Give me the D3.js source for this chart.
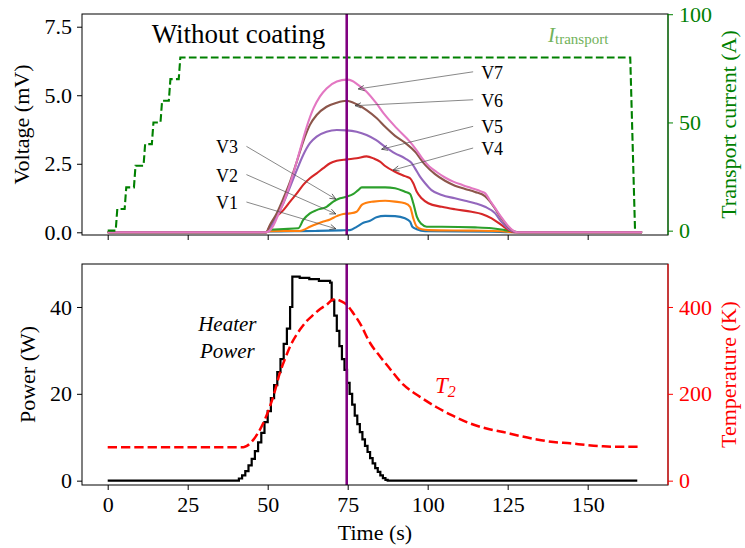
<!DOCTYPE html>
<html><head><meta charset="utf-8">
<script src="https://cdn.jsdelivr.net/npm/d3@7"></script>
<style>
body{margin:0;background:#fff}
svg{display:block}
svg text{font-family:"Liberation Serif","DejaVu Serif","Noto Serif","Times New Roman",Times,serif !important}
</style>
</head><body>
<svg id="chart" width="745" height="548"></svg>
<script>
// ---------- data (time in s) ----------
const seriesNames = ["V1","V2","V3","V4","V5","V6","V7"];
const seriesColors = ["#1f77b4","#ff7f0e","#2ca02c","#d62728","#9467bd","#8c564b","#e377c2"];

const v1 = [[0,0],[49.5,0],[50.5,0.03],[65,0.05],[73,0.07],[75.7,0.08],[77.8,0.2],[79.9,0.35],[82,0.42],[84,0.55],[86.7,0.6],[89.8,0.59],[92.9,0.51],[94.5,0.39],[95.2,0.2],[96.6,0.11],[99.2,0.04],[120,0.02],[126,0],[167,0]];
const v2 = [[0,0],[49.5,0],[50.5,0.04],[60,0.05],[61.1,0.08],[63.2,0.2],[65.3,0.3],[67.4,0.39],[69.5,0.47],[71.6,0.59],[73.6,0.67],[75.7,0.69],[77.8,0.75],[79.4,1.0],[80.9,1.08],[83,1.12],[86.7,1.15],[89.8,1.12],[92.9,1.06],[94.5,0.93],[95.5,0.51],[96.6,0.2],[98.1,0.11],[100.2,0.08],[114,0.06],[123,0.04],[127,0],[167,0]];
const v3 = [[0,0],[49.5,0],[51,0.1],[55,0.12],[59.6,0.15],[61.1,0.45],[63.2,0.69],[65.3,0.81],[68.4,0.93],[70.5,1.12],[72.6,1.24],[74.7,1.3],[76.8,1.4],[78.3,1.54],[79.4,1.64],[82,1.64],[85.1,1.64],[86.7,1.64],[89.8,1.61],[92.9,1.48],[94.5,1.4],[95.5,1.06],[96.6,0.57],[98.1,0.3],[99.7,0.2],[104.4,0.2],[114.8,0.18],[120,0.15],[124.1,0.08],[127.3,0.02],[130,0],[167,0]];
const v4 = [[0,0],[49.5,0],[51,0.3],[52.8,0.57],[54.9,0.81],[57,1.12],[59.1,1.42],[61.1,1.73],[63.2,1.97],[65.3,2.15],[67.4,2.34],[69.5,2.52],[71.6,2.61],[74.7,2.66],[77.8,2.7],[80.9,2.77],[83.2,2.69],[85.1,2.58],[86.7,2.42],[89.8,2.21],[92.9,2.05],[94.5,1.97],[95.5,1.79],[96.6,1.48],[98.1,1.24],[100.2,1.06],[104.4,0.93],[108.5,0.84],[113.7,0.75],[116.9,0.67],[120,0.51],[123,0.27],[125.5,0.07],[127,0],[167,0]];
const v5 = [[0,0],[49.5,0],[50.7,0.15],[52.8,0.57],[54.9,1.06],[57,1.66],[59.1,2.27],[61.1,2.82],[63.2,3.25],[65.3,3.49],[68.4,3.67],[71.6,3.73],[74.7,3.72],[77.8,3.67],[80.9,3.55],[83.8,3.37],[86.7,3.12],[89.8,2.88],[92.9,2.7],[95,2.52],[96,2.34],[97.6,2.03],[99.2,1.79],[101.2,1.54],[104.4,1.36],[108.5,1.24],[111.7,1.15],[114.8,1.06],[117.9,0.93],[121.1,0.69],[123,0.39],[125,0.15],[126.5,0.04],[128,0],[167,0]];
const v6 = [[0,0],[49.5,0],[50.7,0.27],[52.8,0.69],[54.9,1.24],[57,1.85],[59.1,2.58],[61.1,3.31],[63.2,3.92],[65.3,4.28],[68.4,4.58],[71.6,4.73],[74.7,4.8],[77.8,4.67],[80.9,4.46],[84.1,4.16],[86.7,3.85],[89.8,3.52],[92.9,3.27],[96,2.95],[99.2,2.46],[102.3,2.12],[105.4,1.88],[108.5,1.7],[111.7,1.58],[114.8,1.47],[117.9,1.32],[119.5,1.12],[121.1,0.85],[123,0.52],[125,0.22],[126.5,0.06],[128,0],[167,0]];
const v7 = [[0,0],[49.5,0],[50.5,0.05],[51.8,0.25],[53.5,0.7],[55,1.1],[58,2.15],[60.1,3.0],[62.2,3.85],[64.3,4.52],[66.3,4.95],[68.4,5.25],[71.6,5.5],[74.7,5.57],[76.5,5.52],[78,5.4],[80.9,5.13],[84,4.7],[86.5,4.3],[90.3,3.8],[94.5,3.3],[96.5,3.0],[98.6,2.65],[100.5,2.4],[102.8,2.2],[105.4,2.0],[108,1.85],[111,1.72],[114,1.6],[116.5,1.5],[118,1.42],[119.5,1.15],[121,0.9],[123,0.55],[125,0.25],[126.5,0.08],[128,0],[167,0]];
const voltageSeries = [v1,v2,v3,v4,v5,v6,v7];

const transportCurrent = [[0,0],[2.5,0],[3,10],[5.3,10],[5.8,20],[8.2,20],[8.7,30],[11.2,30],[11.7,40],[13.8,40],[14.3,50],[16.5,50],[17,60],[19.1,60],[19.6,70],[22.2,70],[22.7,80],[163.3,80],[164.8,0]];

const heaterPower = [[0,0],[40.3,0],[41,0.5],[42,1.2],[43,2.2],[44,3.5],[45,5],[46,6.8],[47,8.8],[48,11],[49,13.5],[50,16],[51,19],[52,22],[53,25],[54,28],[55,31.5],[56,35],[57,40],[57.7,47],[60,46.7],[63,46.4],[66,46.0],[69.5,45.6],[70,41.5],[70.8,38],[71.6,34.5],[72.4,31],[73.2,28],[74,25.5],[74.8,22.5],[75.6,20],[76.4,17.5],[77.2,15],[78,13],[78.8,11.2],[79.6,9.5],[80.4,8],[81.2,6.6],[82,5.2],[82.8,4],[83.6,2.9],[84.4,2],[85.2,1.2],[86,0.6],[86.8,0.2],[87.5,0],[165.5,0]];

const temperatureT2 = [[0,77],[42.4,77],[43.5,80],[45.5,94],[47,110],[48.6,132],[50.7,171],[52,200],[53.8,248],[55.5,282],[57,309],[60.1,348],[62,366],[64.3,382],[66.5,396],[68.4,405],[70.5,417],[71.6,417],[73,413],[74.7,405],[76.8,385],[78.8,363],[82,317],[85,287],[87.2,267],[92.4,221],[97.6,193],[102.8,169],[108,149],[113.2,132],[118.4,120],[123.6,112],[128.8,103],[134.1,95],[139.3,89],[144.5,86],[149.7,82],[154.9,79],[160,78],[165.8,78]];

const xTicks = [0,25,50,75,100,125,150];
const voltageTicks = [0,2.5,5,7.5];
const currentTicks = [0,50,100];
const powerTicks = [0,20,40];
const tempTicks = [0,200,400];
const markerTime = 74.7;

// annotation anchors in data coordinates: label position and arrow tip
const voltageNotes = [
  {name:"V7", side:"right", tx:116.7, tv:5.60, ax:78.3, av:5.23},
  {name:"V6", side:"right", tx:116.7, tv:4.58, ax:77.3, av:4.62},
  {name:"V5", side:"right", tx:116.7, tv:3.61, ax:85.6, av:3.03},
  {name:"V4", side:"right", tx:116.7, tv:2.82, ax:89.2, av:2.27},
  {name:"V3", side:"left",  tx:40.7,  tv:2.88, ax:71.3, av:1.21},
  {name:"V2", side:"left",  tx:40.7,  tv:1.85, ax:71.3, av:0.67},
  {name:"V1", side:"left",  tx:40.7,  tv:0.85, ax:71.3, av:0.13}
];

// ---------- layout ----------
const FONT = "'Liberation Serif','DejaVu Serif','Noto Serif','Times New Roman',serif";
const svg = d3.select("#chart").attr("font-family",FONT);
const L = 82, R = 668;
const top1 = 14, bot1 = 235, top2 = 264, bot2 = 485;
const FS = 22;
const green = "#008000", red = "#ff0000";

const x = d3.scaleLinear([-8.03,175.1],[L,R]);
const yV = d3.scaleLinear([-0.0985,7.964],[bot1,top1]);
const yI = d3.scaleLinear([-2.0,100.1],[bot1,top1]);
const yP = d3.scaleLinear([-1.0,49.9],[bot2,top2]);
const yT = d3.scaleLinear([-10,499],[bot2,top2]);

const defs = svg.append("defs");
defs.append("marker").attr("id","arr").attr("viewBox","-8 -4 9 8")
  .attr("refX",0).attr("refY",0).attr("markerWidth",9).attr("markerHeight",8)
  .attr("markerUnits","userSpaceOnUse").attr("orient","auto")
  .append("path").attr("d","M-6,-2.6L0,0L-6,2.6").attr("fill","none").attr("stroke","#333").attr("stroke-width",0.7);

function styleAxis(g, color){
  g.attr("font-family",FONT);
  g.select(".domain").remove();
  g.selectAll(".tick line").attr("stroke",color).attr("stroke-width",1);
  g.selectAll(".tick text").attr("fill",color).attr("font-size",FS).style("font-family",FONT);
}

// ---------- top panel ----------
const lineV = d3.line().x(d=>x(d[0])).y(d=>yV(d[1])).curve(d3.curveMonotoneX);
voltageSeries.forEach((s,i)=>{
  svg.append("path").datum(s).attr("d",lineV).attr("fill","none")
    .attr("stroke",seriesColors[i]).attr("stroke-width",2.1).attr("stroke-linejoin","round");
});
const lineI = d3.line().x(d=>x(d[0])).y(d=>yI(d[1]));
svg.append("path").datum(transportCurrent).attr("d",lineI).attr("fill","none")
  .attr("stroke",green).attr("stroke-width",2.1).attr("stroke-dasharray","7.7,3.3");

svg.append("line").attr("x1",x(markerTime)).attr("x2",x(markerTime)).attr("y1",top1).attr("y2",bot1)
  .attr("stroke","#800080").attr("stroke-width",2.6);

// annotations
voltageNotes.forEach(n=>{
  const tx = x(n.tx), ty = yV(n.tv);
  svg.append("text").attr("x",tx).attr("y",ty).attr("font-size",18)
    .attr("text-anchor", n.side==="right"?"start":"end").attr("fill","#000").text(n.name);
  const sx = n.side==="right" ? tx-8 : tx+8.5;
  const sy = ty-7;
  svg.append("line").attr("x1",sx).attr("y1",sy).attr("x2",x(n.ax)).attr("y2",yV(n.av))
    .attr("stroke","#555").attr("stroke-width",0.7).attr("marker-end","url(#arr)");
});

svg.append("text").attr("x",x(13.75)).attr("y",yV(6.90)).attr("font-size",27).text("Without coating");

const it = svg.append("text").attr("x",x(137.6)).attr("y",yI(87.3)).attr("fill","#72b25a");
it.append("tspan").attr("font-size",21).attr("font-style","italic").text("I");
it.append("tspan").attr("font-size",15).attr("dy",2).text("transport");

// frame
svg.append("rect").attr("x",L).attr("y",top1).attr("width",R-L).attr("height",bot1-top1)
  .attr("fill","none").attr("stroke","#000").attr("stroke-width",1);
svg.append("line").attr("x1",R).attr("x2",R).attr("y1",top1).attr("y2",bot1).attr("stroke",green).attr("stroke-width",1.1);

styleAxis(svg.append("g").attr("transform",`translate(${L},0)`)
  .call(d3.axisLeft(yV).tickValues(voltageTicks).tickFormat(d3.format(".1f")).tickSize(5).tickPadding(5)),"#000");
styleAxis(svg.append("g").attr("transform",`translate(${R},0)`)
  .call(d3.axisRight(yI).tickValues(currentTicks).tickSize(5).tickPadding(6)),green);
styleAxis(svg.append("g").attr("transform",`translate(0,${bot1})`)
  .call(d3.axisBottom(x).tickValues(xTicks).tickFormat("").tickSize(5)),"#000");

// ---------- bottom panel ----------
const lineP = d3.line().x(d=>x(d[0])).y(d=>yP(d[1])).curve(d3.curveStepAfter);
svg.append("path").datum(heaterPower).attr("d",lineP).attr("fill","none")
  .attr("stroke","#000").attr("stroke-width",2.2);
const lineT = d3.line().x(d=>x(d[0])).y(d=>yT(d[1])).curve(d3.curveMonotoneX);
svg.append("path").datum(temperatureT2).attr("d",lineT).attr("fill","none")
  .attr("stroke",red).attr("stroke-width",2.5).attr("stroke-dasharray","9.3,4");

svg.append("line").attr("x1",x(markerTime)).attr("x2",x(markerTime)).attr("y1",top2).attr("y2",bot2)
  .attr("stroke","#800080").attr("stroke-width",2.6);

svg.append("text").attr("x",x(37.4)).attr("y",yP(34.4)).attr("font-size",21).attr("font-style","italic")
  .attr("text-anchor","middle").text("Heater");
svg.append("text").attr("x",x(37.4)).attr("y",yP(28.3)).attr("font-size",21).attr("font-style","italic")
  .attr("text-anchor","middle").text("Power");

const tt = svg.append("text").attr("x",x(102.3)).attr("y",yT(201.6)).attr("fill",red).attr("font-style","italic");
tt.append("tspan").attr("font-size",23).text("T");
tt.append("tspan").attr("font-size",16).attr("dy",4).text("2");

svg.append("rect").attr("x",L).attr("y",top2).attr("width",R-L).attr("height",bot2-top2)
  .attr("fill","none").attr("stroke","#000").attr("stroke-width",1);
svg.append("line").attr("x1",R).attr("x2",R).attr("y1",top2).attr("y2",bot2).attr("stroke",red).attr("stroke-width",1.1);

styleAxis(svg.append("g").attr("transform",`translate(${L},0)`)
  .call(d3.axisLeft(yP).tickValues(powerTicks).tickSize(5).tickPadding(5)),"#000");
styleAxis(svg.append("g").attr("transform",`translate(${R},0)`)
  .call(d3.axisRight(yT).tickValues(tempTicks).tickSize(5).tickPadding(6)),red);
styleAxis(svg.append("g").attr("transform",`translate(0,${bot2})`)
  .call(d3.axisBottom(x).tickValues(xTicks).tickSize(5).tickPadding(6)),"#000");

// axis titles
svg.append("text").attr("transform",`translate(29,${(top1+bot1)/2}) rotate(-90)`)
  .attr("text-anchor","middle").attr("font-size",FS).text("Voltage (mV)");
svg.append("text").attr("transform",`translate(736,${(top1+bot1)/2}) rotate(-90)`)
  .attr("text-anchor","middle").attr("font-size",FS).attr("fill",green).text("Transport current (A)");
svg.append("text").attr("transform",`translate(35,${(top2+bot2)/2}) rotate(-90)`)
  .attr("text-anchor","middle").attr("font-size",FS).text("Power (W)");
svg.append("text").attr("transform",`translate(736,${(top2+bot2)/2}) rotate(-90)`)
  .attr("text-anchor","middle").attr("font-size",FS).attr("fill",red).text("Temperature (K)");
svg.append("text").attr("x",(L+R)/2).attr("y",540).attr("text-anchor","middle").attr("font-size",FS).text("Time (s)");
</script>
</body></html>
